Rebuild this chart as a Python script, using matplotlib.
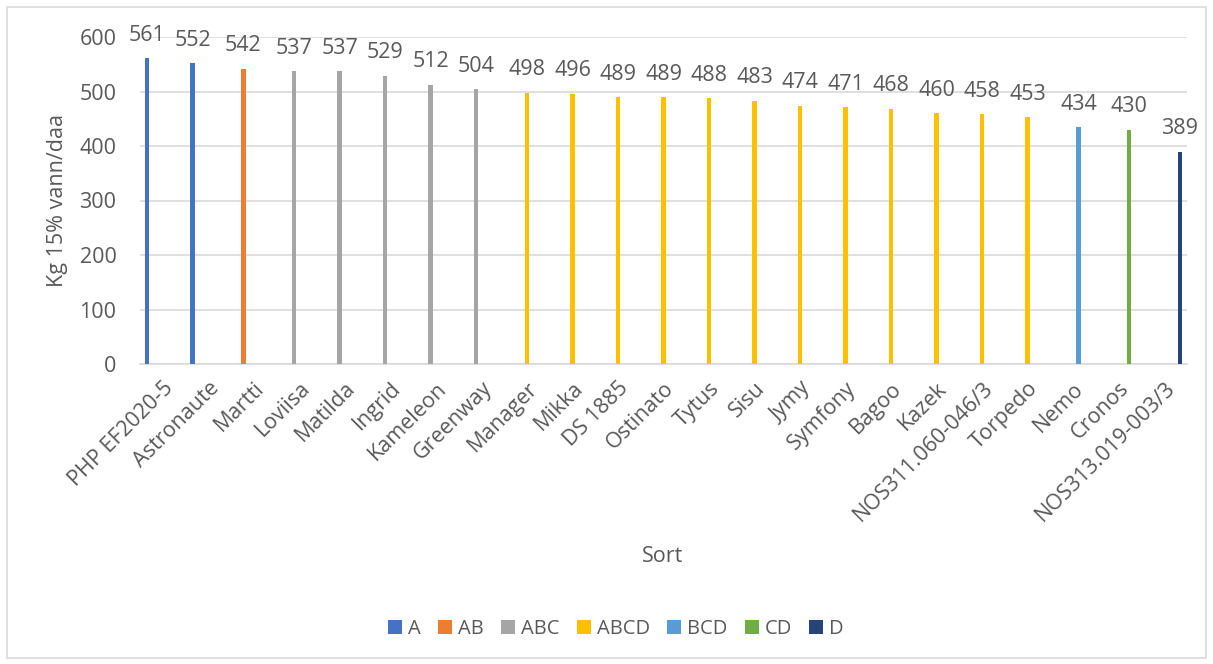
import numpy as np
import matplotlib.pyplot as plt
from matplotlib.patches import Rectangle

plt.rcParams['font.family'] = ['Open Sans', 'DejaVu Sans']

varieties = ["PHP EF2020-5", "Astronaute", "Martti", "Loviisa", "Matilda", "Ingrid",
             "Kameleon", "Greenway", "Manager", "Mikka", "DS 1885", "Ostinato", "Tytus",
             "Sisu", "Jymy", "Symfony", "Bagoo", "Kazek", "NOS311.060-046/3", "Torpedo",
             "Nemo", "Cronos", "NOS313.019-003/3"]
yields = [561, 552, 542, 537, 537, 529, 512, 504, 498, 496, 489, 489, 488, 483,
          474, 471, 468, 460, 458, 453, 434, 430, 389]
groups = ["A", "A", "AB", "ABC", "ABC", "ABC", "ABC", "ABC", "ABCD", "ABCD", "ABCD",
          "ABCD", "ABCD", "ABCD", "ABCD", "ABCD", "ABCD", "ABCD", "ABCD", "ABCD",
          "BCD", "CD", "D"]
group_names = ["A", "AB", "ABC", "ABCD", "BCD", "CD", "D"]
group_colors = ["#4472C4", "#ED7D31", "#A5A5A5", "#FFC000", "#5B9BD5", "#70AD47", "#264478"]

W, H = 1213, 664
fig = plt.figure(figsize=(W / 100, H / 100), dpi=100)
fig.patch.set_facecolor("white")
fig.add_artist(Rectangle((7 / W, 6 / H), 1 - 14 / W, 1 - 13 / H, transform=fig.transFigure,
                         fill=False, edgecolor="#D9D9D9", linewidth=1.2))

ax = fig.add_axes([140 / W, 1 - 364 / H, 1047 / W, 327 / H])
text_color = "#595959"
fs = 15.5

n = len(varieties)
x = np.arange(n)
n_groups = len(group_names)
slot = 0.8 / n_groups
bar_w = slot * 0.85

for gi, (g, c) in enumerate(zip(group_names, group_colors)):
    idx = [i for i, gg in enumerate(groups) if gg == g]
    offset = (gi - (n_groups - 1) / 2) * slot
    xs = x[idx] + offset
    vals = [yields[i] for i in idx]
    ax.bar(xs, vals, width=bar_w, color=c, label=g, zorder=3)
    for xi, v in zip(xs, vals):
        ax.annotate(str(v), (xi, v), xytext=(0, 9), textcoords="offset points",
                    ha="center", va="bottom", fontsize=fs, color=text_color,
                    annotation_clip=False)

ax.set_xlim(-0.5, n - 0.5)
ax.set_ylim(0, 600)
ax.set_yticks(range(0, 601, 100))
ax.yaxis.grid(True, color="#D9D9D9", linewidth=1.2, zorder=0)
ax.set_axisbelow(True)
for s in ["top", "right", "left"]:
    ax.spines[s].set_visible(False)
ax.spines["bottom"].set_color("#D9D9D9")
ax.spines["bottom"].set_linewidth(1.2)
ax.tick_params(axis="both", length=0, colors=text_color, labelsize=fs)
ax.tick_params(axis="y", pad=17)
ax.set_xticks(x)
ax.set_xticklabels(varieties, rotation=45, ha="right", rotation_mode="anchor")
ax.tick_params(axis="x", pad=10)

ax.set_ylabel("Kg 15% vann/daa", fontsize=fs, color=text_color, labelpad=8)
fig.text(663 / W, 1 - 557 / H, "Sort", ha="center", va="center", fontsize=fs,
         color=text_color)

handles, labels = ax.get_legend_handles_labels()
leg = fig.legend(handles, labels, loc="center", bbox_to_anchor=(616 / W, 1 - 629 / H),
                 ncol=n_groups, frameon=False, fontsize=fs - 1, handlelength=0.7,
                 handleheight=0.7, handletextpad=0.3, columnspacing=0.85)
for t in leg.get_texts():
    t.set_color(text_color)

fig.savefig("out.png", dpi=100, facecolor="white")
